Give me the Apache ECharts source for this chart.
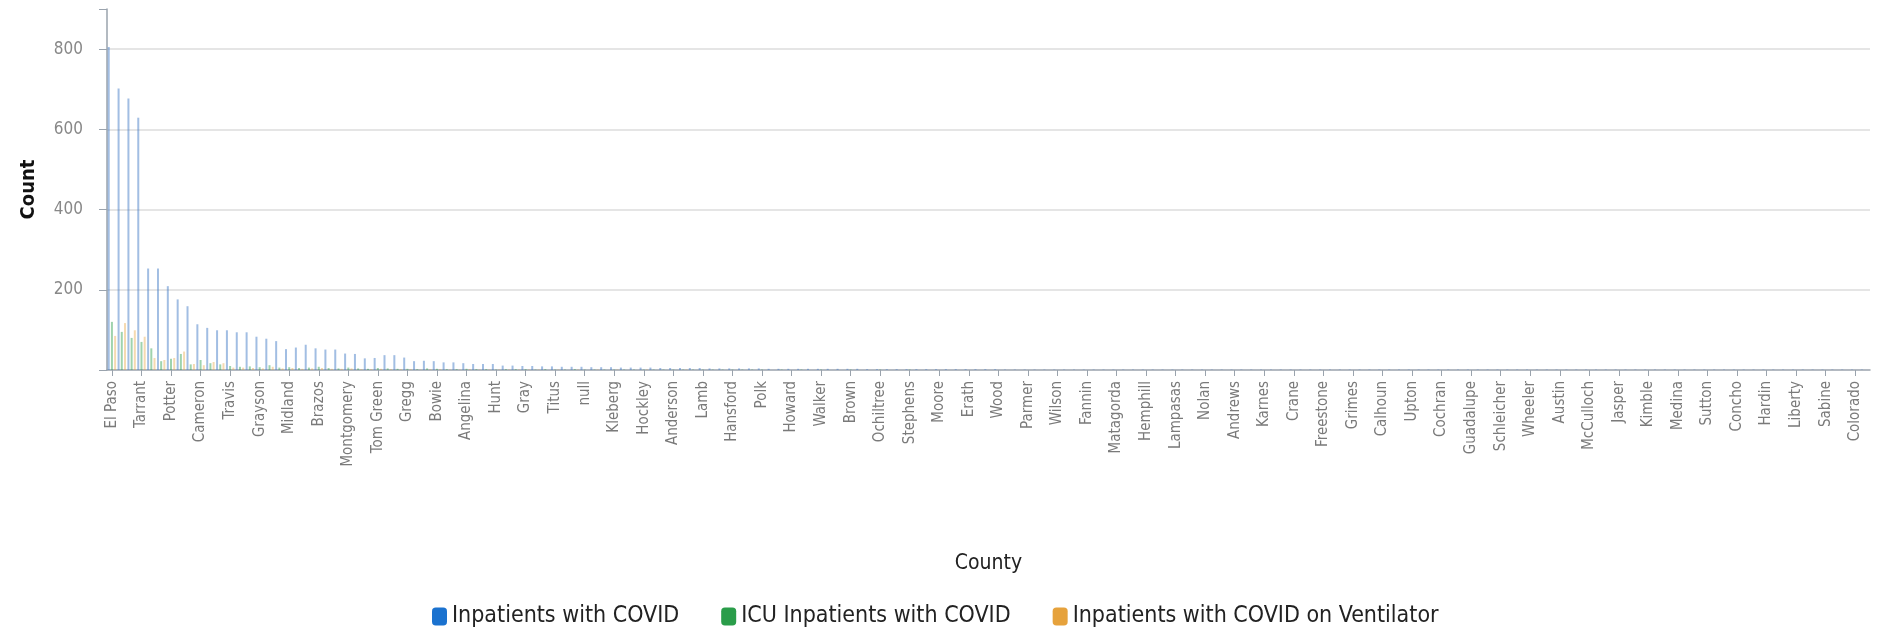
<!DOCTYPE html>
<html>
<head>
<meta charset="utf-8">
<script src="https://cdn.jsdelivr.net/npm/echarts@6/dist/echarts.min.js"></script>
<style>
html,body{margin:0;padding:0;background:#fff;}
#chart{width:1887px;height:631px;}
</style>
</head>
<body>
<div id="chart"></div>
<script>
const counties = [
 "El Paso","Harris","Dallas","Tarrant","Lubbock","Bexar","Potter","Hidalgo","Webb","Cameron",
 "Nueces","Collin","Travis","Smith","Ector","Grayson","Taylor","Denton","Midland","Wichita",
 "McLennan","Brazos","Jefferson","Bell","Montgomery","Fort Bend","Victoria","Tom Green","Randall","Hale",
 "Gregg","Williamson","Galveston","Bowie","Brazoria","Hays","Angelina","Nacogdoches","Ellis","Hunt",
 "Kaufman","Johnson","Gray","Val Verde","Maverick","Titus","Lamar","Hopkins","null","Harrison",
 "Cherokee","Kleberg","Deaf Smith","Dawson","Hockley","Navarro","Van Zandt","Anderson","Rusk","Henderson",
 "Lamb","Dallam","Hutchinson","Hansford","Uvalde","Starr","Polk","Jim Wells","Bastrop","Howard",
 "Scurry","Pecos","Walker","Orange","Hood","Brown","Palo Pinto","Terry","Ochiltree","Gaines",
 "Castro","Stephens","Young","Swisher","Moore","Kerr","Comal","Erath","Hill","Cooke",
 "Wood","Upshur","Panola","Parmer","Bailey","Yoakum","Wilson","Atascosa","Frio","Fannin",
 "Wise","Parker","Matagorda","Wharton","Jackson","Hemphill","Lipscomb","Roberts","Lampasas","Coryell",
 "Burnet","Nolan","Mitchell","Runnels","Andrews","Ward","Winkler","Karnes","Bee","Live Oak",
 "Crane","Reeves","Brewster","Freestone","Limestone","Leon","Grimes","Washington","Waller","Calhoun",
 "Refugio","San Patricio","Upton","Reagan","Crockett","Cochran","Lynn","Garza","Guadalupe","Caldwell",
 "Gonzales","Schleicher","Sterling","Coke","Wheeler","Collingsworth","Donley","Austin","Fayette","Lavaca",
 "McCulloch","Coleman","Mills","Jasper","Newton","Tyler","Kimble","Kendall","Gillespie","Medina",
 "Bandera","Real","Sutton","Edwards","Kinney","Concho","Menard","Mason","Hardin","Chambers",
 "Montague","Liberty","San Jacinto","Trinity","Sabine","Shelby","San Augustine","Colorado","Lee"
];

const inpatients = [
 805,702,677,629,253,253,209,176,159,114,
 105,99,99,94,94,83,78,72,52,56,
 63,54,51,51,41,40,29,30,37,37,
 31,22,23,22,19,19,17,15,15,15,
 11,11,10,10,9,9,8,8,8,7,
 7,7,6,6,6,6,5,5,5,5,
 5,4,4,4,4,4,4,3,3,3,
 3,3,3,3,3,3,3,2,2,2,
 2,2,2,2,2,2,2,2,2,2,
 2,1,1,1,1,1,1,1,1,1,
 1,1,1,1,1,1,1,1,1,1,
 1,1,1,1,1,1,1,1,1,1,
 1,1,1,1,1,1,1,1,1,1,
 1,1,1,1,1,1,1,1,1,1,
 1,1,1,1,1,1,1,1,1,1,
 1,1,1,1,1,1,1,1,1,1,
 1,1,1,1,1,1,1,1,1,1,
 1,1,1,1,1,1,1,1,1
];

const icu = [
 120,95,80,70,54,22,28,40,14,25,
 17,14,10,8,9,7,12,6,7,5,
 6,8,5,4,6,4,3,5,4,3,
 3,2,4,3,2,2,3,2,2,1,
 2,2,2,1,2,1,1,2,1,1,
 1,1,1,1,1,1,1,1,1,1,
 1,1,1,1,1,1,1,0,1,0,
 1,0,1,0,0,1,0,0,1,0,
 0,1,0,0,0,0,0,0,0,0
];

const ventilator = [
 85,117,99,83,30,25,30,46,15,12,
 20,17,6,6,5,4,8,4,5,3,
 4,5,3,3,4,2,2,3,2,2,
 2,1,2,2,1,1,2,1,1,1,
 1,1,1,1,0,1,0,1,0,1,
 0,1,0,0,1,0,0,0,1,0
];

const seriesNames = ["Inpatients with COVID","ICU Inpatients with COVID","Inpatients with COVID on Ventilator"];
const legendColors = ["#1b72cf","#2a9d4a","#e6a23c"];
const barColors = ["rgba(70,125,200,0.5)","rgba(42,157,74,0.45)","rgba(230,162,60,0.4)"];
const yTicks = [200,400,600,800];

const chart = echarts.init(document.getElementById('chart'), null, {renderer:'canvas'});
const fontBase = "'DejaVu Sans Condensed','Liberation Sans Narrow','Noto Sans',sans-serif";
chart.setOption({
  animation:false,
  backgroundColor:'#fff',
  grid:{left:107, right:17, top:9, bottom:261, containLabel:false},
  legend:{
    left:427, top:600, itemWidth:15, itemHeight:18, itemGap:42, icon:'roundRect',
    textStyle:{color:'#222', fontSize:23, fontFamily:fontBase},
    data: seriesNames.map((n,i)=>({name:n, itemStyle:{color:legendColors[i], opacity:1}}))
  },
  xAxis:{
    type:'category', data:counties,
    name:'County', nameLocation:'middle', nameGap:183,
    nameTextStyle:{color:'#222', fontSize:21, fontFamily:fontBase},
    axisLine:{show:true, lineStyle:{color:'#9aa3ad', width:1.5}},
    axisTick:{show:true, alignWithLabel:true, interval:2, length:6, lineStyle:{color:'#9aa3ad'}},
    axisLabel:{interval:2, rotate:90, color:'#7a7a7a', fontSize:15, margin:11, fontFamily:fontBase},
    splitLine:{show:false}
  },
  yAxis:{
    type:'value', min:0, max:900, interval:200,
    name:'Count', nameLocation:'middle', nameGap:68, nameRotate:90,
    nameTextStyle:{color:'#111', fontSize:20, fontWeight:'bold', fontFamily:fontBase},
    axisLine:{show:true, lineStyle:{color:'#9aa3ad', width:1.5}},
    axisTick:{show:true, length:8, lineStyle:{color:'#9aa3ad'}},
    axisLabel:{color:'#888', fontSize:17, margin:24, fontFamily:fontBase,
      formatter:v=> yTicks.indexOf(v)>=0 ? String(v) : ''},
    splitLine:{show:true, showMaxLine:false, showMinLine:false, lineStyle:{color:'#dddddd', width:1.5}}
  },
  series:[
    {name:seriesNames[0], type:'bar', data:inpatients, barWidth:2, barGap:'60%', itemStyle:{color:barColors[0]}},
    {name:seriesNames[1], type:'bar', data:icu, barWidth:2, barGap:'60%', itemStyle:{color:barColors[1]}},
    {name:seriesNames[2], type:'bar', data:ventilator, barWidth:2, barGap:'60%', itemStyle:{color:barColors[2]}}
  ]
});
</script>
</body>
</html>
